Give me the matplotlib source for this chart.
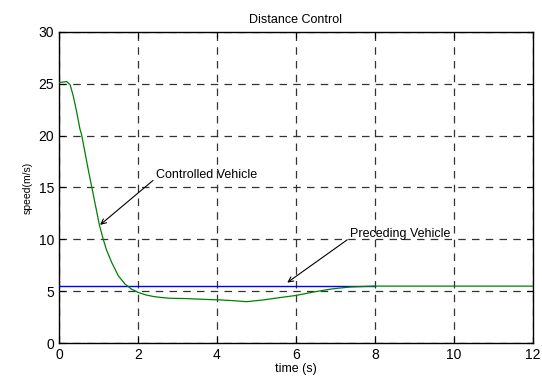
import matplotlib
matplotlib.use("Agg")
import matplotlib.pyplot as plt

plt.rcParams['font.family'] = ['Liberation Sans', 'DejaVu Sans']

# Data
t_ctrl = [0.0, 0.19, 0.28, 0.36, 0.45, 0.53, 0.57, 0.66, 0.74, 0.83, 0.91, 1.02, 1.12, 1.2, 1.33,
          1.5, 1.67, 1.84, 2.0, 2.2, 2.39, 2.6, 2.81, 3.23, 3.65, 4.08, 4.41, 4.75, 5.17, 5.6,
          6.0, 6.44, 6.86, 7.07, 7.4, 7.8, 8.0, 9.0, 10.0, 11.0, 12.0]
v_ctrl = [25.1, 25.2, 24.9, 23.8, 22.2, 20.6, 20.1, 18.3, 16.7, 15.0, 13.5, 11.4, 10.0, 9.0, 7.8,
          6.5, 5.7, 5.2, 4.9, 4.65, 4.5, 4.4, 4.33, 4.3, 4.23, 4.17, 4.1, 4.0, 4.17, 4.4,
          4.6, 4.93, 5.2, 5.3, 5.42, 5.48, 5.5, 5.5, 5.5, 5.5, 5.5]
t_prec = [0.0, 8.0]
v_prec = [5.5, 5.5]

xticks = [0, 2, 4, 6, 8, 10, 12]
yticks = [0, 5, 10, 15, 20, 25, 30]

fig = plt.figure(figsize=(5.42, 3.78), dpi=100)
ax = fig.add_axes([0.109, 0.092, 0.874, 0.824])

ax.plot(t_prec, v_prec, color="#0000ff", lw=1.0, zorder=3)
ax.plot(t_ctrl, v_ctrl, color="#008000", lw=0.9, zorder=4)

ax.set_xlim(0, 12)
ax.set_ylim(0, 30)
ax.set_xticks(xticks)
ax.set_yticks(yticks)
ax.grid(True, color="#333333", linestyle=(0, (6, 5)), lw=0.9)
ax.tick_params(direction="in", top=True, right=True, labelsize=10, length=4)
for s in ax.spines.values():
    s.set_linewidth(1.0)

ax.set_title("Distance Control", fontsize=9, pad=6)
ax.set_xlabel("time (s)", fontsize=9, labelpad=1)
ax.set_ylabel("speed(m/s)", fontsize=7.5, labelpad=4)

ax.annotate("Controlled Vehicle", xy=(1.04, 11.4), xytext=(2.45, 16.25),
            fontsize=9, va="center", ha="left",
            arrowprops=dict(arrowstyle="->", color="black", lw=0.8,
                            shrinkA=0, shrinkB=0, relpos=(0.0, 0.2)))
ax.annotate("Preceding Vehicle", xy=(5.78, 5.84), xytext=(7.37, 10.5),
            fontsize=9, va="center", ha="left",
            arrowprops=dict(arrowstyle="->", color="black", lw=0.8,
                            shrinkA=0, shrinkB=0, relpos=(0.0, 0.2)))

fig.savefig("out.png", dpi=100)
